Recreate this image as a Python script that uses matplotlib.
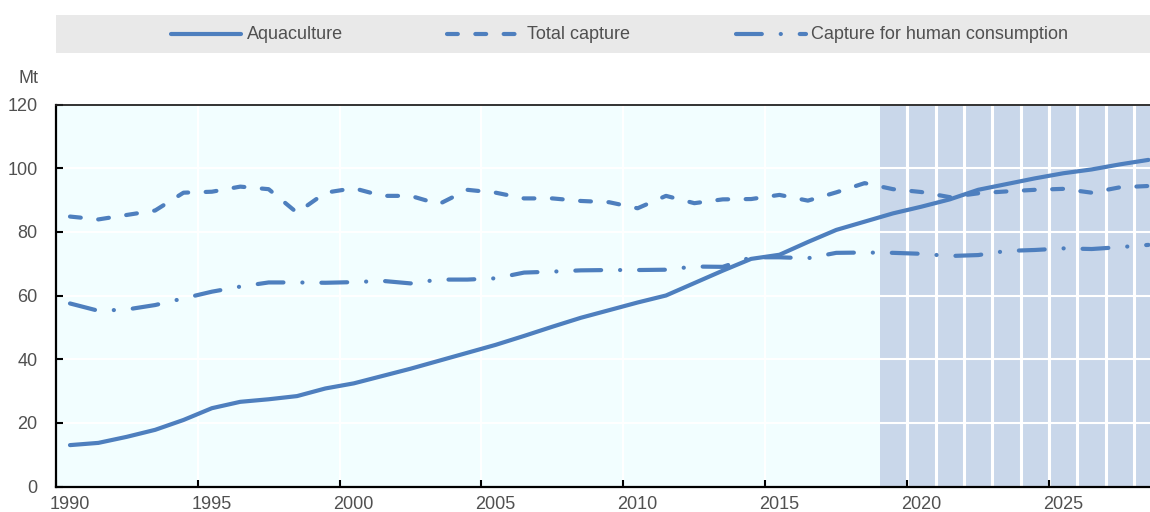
import matplotlib
matplotlib.use("Agg")
import matplotlib.pyplot as plt
from matplotlib.lines import Line2D
from matplotlib.patches import Rectangle

plt.rcParams['font.family'] = ['Liberation Sans Narrow', 'Liberation Sans', 'DejaVu Sans']
plt.rcParams['lines.scale_dashes'] = False

years = list(range(1990, 2029))
aquaculture = [13.0, 13.7, 15.6, 17.8, 20.9, 24.6, 26.6, 27.4, 28.4, 30.8, 32.4, 34.7, 37.0,
               39.5, 42.0, 44.5, 47.3, 50.2, 53.0, 55.4, 57.8, 60.0, 63.9, 67.8, 71.5, 72.8,
               76.8, 80.6, 83.2, 85.8, 87.9, 90.2, 93.2, 95.0, 96.8, 98.4, 99.6, 101.2, 102.6]
total_capture = [84.8, 83.9, 85.3, 86.7, 92.3, 92.6, 94.2, 93.4, 86.0, 92.3, 93.7, 91.3, 91.3,
                 88.7, 93.2, 92.3, 90.5, 90.5, 89.7, 89.3, 87.4, 91.3, 89.0, 90.2, 90.3, 91.6,
                 89.8, 92.4, 95.3, 93.4, 92.5, 90.9, 92.1, 92.7, 93.2, 93.5, 92.3, 94.0, 94.4]
human_consumption = [57.5, 55.2, 55.6, 57.0, 59.1, 61.2, 62.8, 64.1, 64.1, 64.0, 64.2, 64.6, 63.8,
                     65.0, 65.0, 65.4, 67.2, 67.5, 67.9, 68.0, 68.0, 68.1, 69.1, 69.0, 72.0, 72.0,
                     71.7, 73.4, 73.5, 73.4, 73.1, 72.4, 72.7, 74.0, 74.3, 74.8, 74.6, 75.2, 75.9]
series_names = ["Aquaculture", "Total capture", "Capture for human consumption"]
projection_start = 2019
y_ticks = [0, 20, 40, 60, 80, 100, 120]
unit_label = "Mt"

LINE = '#4E7FBE'
TXT = '#505050'
FS = 13
W, H = 1150, 512

fig = plt.figure(figsize=(W / 100, H / 100), dpi=100)
ax_left = 55.8 / W
ax_bottom = (H - 486.5) / H
ax_top = (H - 104.5) / H
ax = fig.add_axes([ax_left, ax_bottom, 1.0 - ax_left, ax_top - ax_bottom])
ax.set_facecolor('#F2FEFF')

idx = list(range(len(years)))
cat_px = 28.38
ax.set_xlim(-0.5, (W - 55.8) / cat_px - 0.5)
ax.set_ylim(0, 120)

# projection shading
p0 = years.index(projection_start)
ax.axvspan(p0 - 0.45, len(years) + 1, color='#C9D7EA', lw=0, zorder=0.1)
for b in range(p0, len(years)):
    ax.axvline(b + 0.5, color='white', lw=2.2, zorder=0.3)

styles = [dict(linestyle='-'),
          dict(dashes=(7.8, 12.6)),
          dict(dashes=(18.6, 13.6, 0.1, 13.6))]
for vals, st in zip([aquaculture, total_capture, human_consumption], styles):
    ax.plot(idx, vals, color=LINE, lw=3, solid_capstyle='round', dash_capstyle='round',
            solid_joinstyle='round', zorder=3, **st)

# grid
ax.set_axisbelow(True)
ax.grid(True, color='white', lw=1.5)

# ticks
major = [i - 0.5 for i in idx if years[i] % 5 == 0]
ax.set_xticks(major)
ax.set_xticklabels([])
ax.set_xticks([i for i in idx if years[i] % 5 == 0], minor=True)
ax.set_xticklabels([str(years[i]) for i in idx if years[i] % 5 == 0], minor=True)
ax.tick_params(axis='x', which='major', direction='in', length=5, width=1.5, color='black')
ax.tick_params(axis='x', which='minor', length=0, pad=7, labelsize=FS, labelcolor=TXT)
ax.set_yticks(y_ticks)
ax.tick_params(axis='y', direction='in', length=5, width=1.5, color='black', pad=13,
               labelsize=FS, labelcolor=TXT)

for s in ['left', 'bottom']:
    ax.spines[s].set_linewidth(1.6)
    ax.spines[s].set_color('black')
ax.spines['top'].set_linewidth(1.3)
ax.spines['top'].set_color('#222222')
ax.spines['right'].set_visible(False)

# unit label
fig.text(39 / W, 1 - 78.5 / H, unit_label, ha='right', va='center', fontsize=FS, color=TXT)

# legend
fig.patches.append(Rectangle((56 / W, 1 - 53 / H), (W - 56) / W, 38 / H,
                             transform=fig.transFigure, facecolor='#E9E9E9', edgecolor='none'))
leg_lines = [(171, 241, 247), (447, 519, 527), (736, 806, 811)]
ly = 1 - 34.3 / H
for (x0, x1, xt), name, st in zip(leg_lines, series_names, styles):
    ln = Line2D([x0 / W, x1 / W], [ly, ly], transform=fig.transFigure, color=LINE, lw=3,
                solid_capstyle='round', dash_capstyle='round', **st)
    fig.add_artist(ln)
    fig.text(xt / W, ly, name, ha='left', va='center', fontsize=FS, color=TXT)

fig.savefig('out.png', dpi=100)
